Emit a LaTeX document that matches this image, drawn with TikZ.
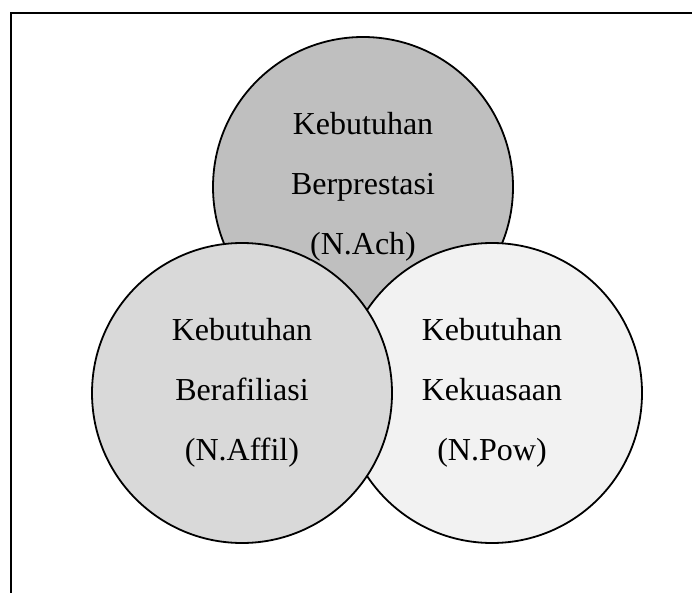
\documentclass[tikz,border=0pt]{standalone}
\usepackage{fontspec}
\setmainfont{Liberation Serif}
\begin{document}
\begin{tikzpicture}[x=1pt, y=-1pt, line width=1.8pt,
	need/.style={circle, draw=black, minimum size=300pt, inner sep=0pt, align=center,
		font=\fontsize{32}{60}\selectfont}]
	\useasboundingbox (0,0) rectangle (692,593);
	% Rahmen
	\draw[line width=2.8pt] (11,593) -- (11,13) -- (692,13);
	\node[need, fill=black!25] (ach)   at (363,187) {Kebutuhan\\Berprestasi\\(N.Ach)};
	\node[need, fill=black!5]  (pow)   at (492,393) {Kebutuhan\\Kekuasaan\\(N.Pow)};
	\node[need, fill=black!15] (affil) at (242,393) {Kebutuhan\\Berafiliasi\\(N.Affil)};
\end{tikzpicture}
\end{document}
